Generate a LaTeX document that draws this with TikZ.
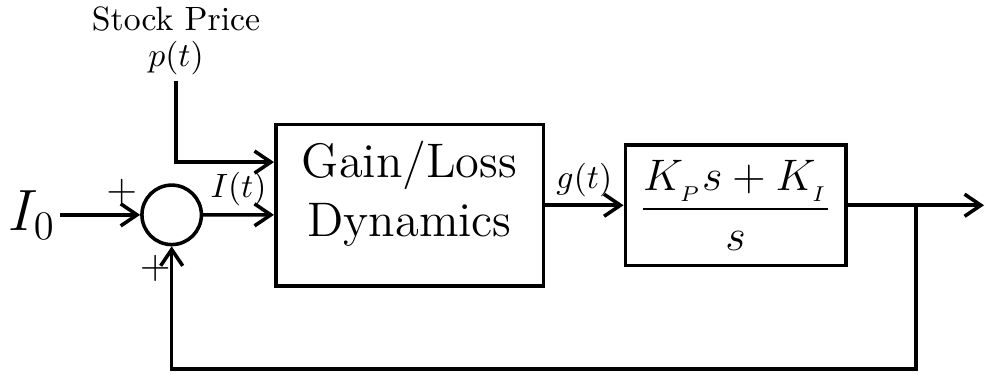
\documentclass[tikz,border=0pt]{standalone}
\usepackage{amsmath,amssymb}
\usetikzlibrary{calc,arrows.meta}

\begin{document}
\begin{tikzpicture}[line width=1.05pt,>={Straight Barb[length=1.7mm,width=2.3mm]}]
	\useasboundingbox (0,0) rectangle (10.27,3.89);
	\node[draw,circle,minimum size=0.62cm,inner sep=0pt] (S) at (1.79,1.65) {};
	\node[left,inner sep=1pt] (I0) at (0.63,1.65) {\LARGE $I_0$};
	\node[draw,minimum width=2.79cm,minimum height=1.68cm] (G) at (4.27,1.75) {};
	\node[align=center,inner sep=0pt] (GT) at (4.27,1.87)
		{\Large Gain/Loss\\[3pt] \Large Dynamics};
	\node[draw,minimum width=2.30cm,minimum height=1.26cm,inner sep=1pt] (C) at (7.67,1.75)
		{\scalebox{0.91}{\Large $\dfrac{K_{_P}s+K_{_I}}{s}$}};
	\node[inner sep=1pt] (P) at (1.835,3.28) {$p(t)$};
	\node[above,inner sep=1pt] (SP) at (P.north) {Stock Price};
	\node (plus1) at (1.27,1.88) {\large $+$};
	\node (plus2) at (1.62,1.09) {\large $+$};
	\coordinate (pin) at ($(G.west)+(0,0.45)$);
	\coordinate (iin) at ($(G.west)+(0,-0.10)$);
	\coordinate (br) at (9.55,1.75);
	\coordinate (out) at (10.26,1.75);
	\coordinate (fb) at (9.55,0.04);
	\draw[->] (I0) -- (S.west);
	\draw[->] (S.east) -- (iin) node[midway,above,inner sep=2pt]{$I(t)$};
	\draw[->] (P.south) |- (pin);
	\draw[->] (G.east) -- (C.west) node[midway,above,inner sep=2pt]{$g(t)$};
	\draw[->] (C.east) -- (out);
	\draw[->] (br) -- (fb) -| (S.south);
\end{tikzpicture}
\end{document}
